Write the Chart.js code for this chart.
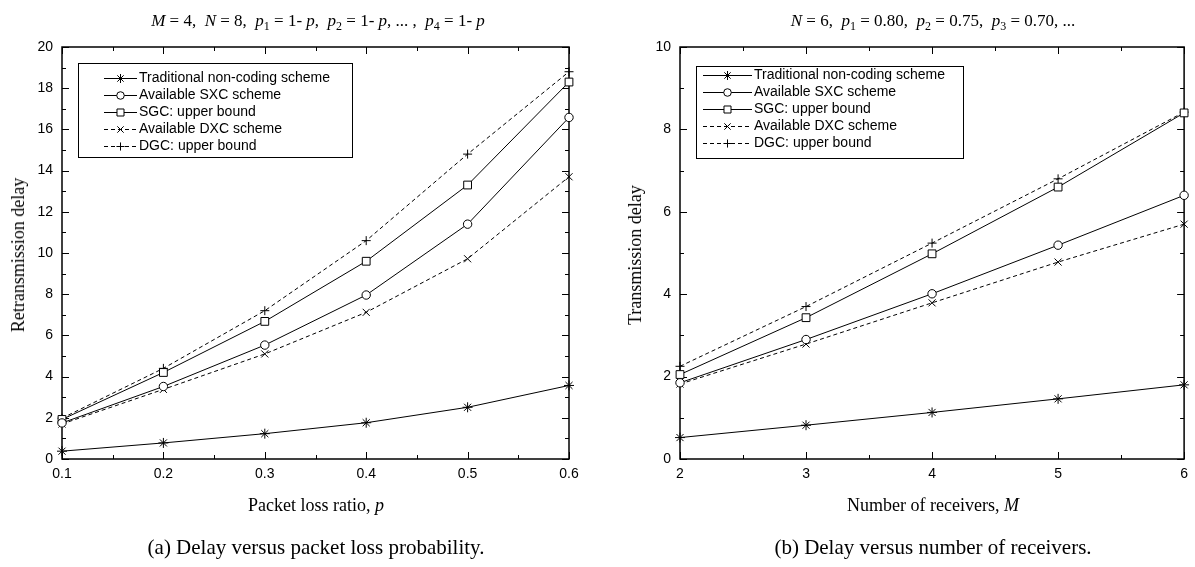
<!DOCTYPE html>
<html>
<head>
<meta charset="utf-8">
<script src="https://cdn.jsdelivr.net/npm/chart.js"></script>
<style>
  body { margin: 0; background: #fff; }
  #wrap { position: relative; width: 1195px; height: 567px; overflow: hidden;
          font-family: "Liberation Serif", "Times New Roman", serif; color: #000; }
  canvas { position: absolute; top: 0; }
  .t { position: absolute; white-space: nowrap; transform: translateX(-50%); }
  .title { font-size: 17px; line-height: 20px; top: 11px; }
  .xt { font-size: 18px; line-height: 20px; top: 495px; }
  .cap { font-size: 21px; line-height: 24px; top: 535px; }
  .yt { position: absolute; white-space: nowrap; font-size: 18px; line-height: 20px;
        transform: translate(-50%, -50%) rotate(-90deg); top: 255px; }
  i { font-style: italic; }
  sub { font-size: 12px; vertical-align: -4px; line-height: 0; }
</style>
</head>
<body>
<div id="wrap">
  <canvas id="chartA" width="597" height="567" style="left:0"></canvas>
  <canvas id="chartB" width="598" height="567" style="left:597px"></canvas>

  <div class="t title" style="left:318px"><i>M</i> = 4,&nbsp; <i>N</i> = 8,&nbsp; <i>p</i><sub>1</sub> = 1- <i>p</i>,&nbsp; <i>p</i><sub>2</sub> = 1- <i>p</i>, ... ,&nbsp; <i>p</i><sub>4</sub> = 1- <i>p</i></div>
  <div class="t title" style="left:933px"><i>N</i> = 6,&nbsp; <i>p</i><sub>1</sub> = 0.80,&nbsp; <i>p</i><sub>2</sub> = 0.75,&nbsp; <i>p</i><sub>3</sub> = 0.70, ...</div>

  <div class="yt" style="left:18px">Retransmission delay</div>
  <div class="yt" style="left:635px">Transmission delay</div>

  <div class="t xt" style="left:316px">Packet loss ratio, <i>p</i></div>
  <div class="t xt" style="left:933px">Number of receivers, <i>M</i></div>

  <div class="t cap" style="left:316px">(a) Delay versus packet loss probability.</div>
  <div class="t cap" style="left:933px">(b) Delay versus number of receivers.</div>
</div>

<script>
// series names (same in both panels)
const seriesNames = [
  "Traditional non-coding scheme",
  "Available SXC scheme",
  "SGC: upper bound",
  "Available DXC scheme",
  "DGC: upper bound"
];

// (a) delay vs packet loss ratio
const lossRatio    = [0.1, 0.2, 0.3, 0.4, 0.5, 0.6];
const aTraditional = [0.38, 0.78, 1.23, 1.76, 2.51, 3.57];
const aSXC         = [1.75, 3.52, 5.53, 7.96, 11.4, 16.58];
const aSGC         = [1.92, 4.2, 6.68, 9.6, 13.3, 18.3];
const aDXC         = [1.7, 3.38, 5.1, 7.12, 9.72, 13.7];
const aDGC         = [1.98, 4.4, 7.2, 10.6, 14.8, 18.8];

// (b) delay vs number of receivers
const receivers    = [2, 3, 4, 5, 6];
const bTraditional = [0.52, 0.82, 1.13, 1.46, 1.8];
const bSXC         = [1.85, 2.9, 4.01, 5.19, 6.4];
const bSGC         = [2.05, 3.43, 4.98, 6.6, 8.4];
const bDXC         = [1.82, 2.79, 3.79, 4.78, 5.7];
const bDGC         = [2.25, 3.7, 5.24, 6.8, 8.42];

// axis ranges / tick steps
const aXRange = [0.1, 0.6], aXStep = 0.1;
const aYRange = [0, 20],    aYStep = 2;
const bXRange = [2, 6],     bXStep = 1;
const bYRange = [0, 10],    bYStep = 2;

// styles per series
const markers = ["star", "circle", "rect", "crossRot", "cross"];
const radii   = [5, 4.2, 5.5, 5, 4.5];
const dashes  = [[], [], [], [4, 3], [4, 3]];

Chart.defaults.font.family = '"Liberation Sans", Arial, sans-serif';
Chart.defaults.font.size = 14;
Chart.defaults.color = "#000";

function makeSets(xs, values) {
  return seriesNames.map((name, i) => ({
    label: name,
    data: xs.map((x, j) => ({ x: x, y: values[i][j] })),
    borderColor: "#000",
    borderWidth: 1,
    borderDash: dashes[i],
    pointStyle: markers[i],
    pointRadius: radii[i],
    pointHoverRadius: radii[i],
    pointBorderColor: "#000",
    pointBackgroundColor: "#fff",
    pointBorderWidth: 1,
    fill: false,
    tension: 0,
    clip: false
  }));
}

// box around the plot, inward ticks on all 4 sides
const framePlugin = {
  id: "frame",
  beforeDatasetsDraw(chart) {
    const { ctx, chartArea: a, scales } = chart;
    ctx.save();
    ctx.strokeStyle = "#000";
    ctx.lineWidth = 1.5;
    ctx.strokeRect(a.left, a.top, a.right - a.left, a.bottom - a.top);
    ctx.lineWidth = 1;
    ctx.beginPath();
    const xv = scales.x.ticks.map(t => t.value);
    xv.forEach((v, k) => {
      const px = Math.round(scales.x.getPixelForValue(v)) + 0.5;
      ctx.moveTo(px, a.bottom); ctx.lineTo(px, a.bottom - 7);
      ctx.moveTo(px, a.top); ctx.lineTo(px, a.top + 7);
      if (k < xv.length - 1) {
        const mx = Math.round(scales.x.getPixelForValue((v + xv[k + 1]) / 2)) + 0.5;
        ctx.moveTo(mx, a.bottom); ctx.lineTo(mx, a.bottom - 4);
        ctx.moveTo(mx, a.top); ctx.lineTo(mx, a.top + 4);
      }
    });
    const yv = scales.y.ticks.map(t => t.value);
    yv.forEach((v, k) => {
      const py = Math.round(scales.y.getPixelForValue(v)) + 0.5;
      ctx.moveTo(a.left, py); ctx.lineTo(a.left + 7, py);
      ctx.moveTo(a.right, py); ctx.lineTo(a.right - 7, py);
      if (k < yv.length - 1) {
        const my = Math.round(scales.y.getPixelForValue((v + yv[k + 1]) / 2)) + 0.5;
        ctx.moveTo(a.left, my); ctx.lineTo(a.left + 4, my);
        ctx.moveTo(a.right, my); ctx.lineTo(a.right - 4, my);
      }
    });
    ctx.stroke();
    ctx.restore();
  }
};

// legend drawn inside the plot: line sample + marker + text
const boxLegend = {
  id: "boxLegend",
  afterDatasetsDraw(chart, args, o) {
    const { ctx, chartArea: a } = chart;
    const bx = a.left + o.x, by = a.top + o.y;
    ctx.save();
    ctx.fillStyle = "#fff";
    ctx.fillRect(bx, by, o.w, o.h);
    ctx.strokeStyle = "#000";
    ctx.lineWidth = 1;
    ctx.strokeRect(bx + 0.5, by + 0.5, o.w, o.h);
    ctx.font = '14px "Liberation Sans", Arial, sans-serif';
    ctx.textBaseline = "middle";
    chart.data.datasets.forEach((ds, i) => {
      const ry = Math.round(by + o.row0 + i * o.rowGap) + 0.5;
      const x0 = bx + o.s0, x1 = x0 + o.sLen;
      ctx.setLineDash(ds.borderDash);
      ctx.beginPath();
      ctx.moveTo(x0, ry); ctx.lineTo(x1, ry);
      ctx.stroke();
      ctx.setLineDash([]);
      ctx.fillStyle = "#fff";
      Chart.helpers.drawPoint(ctx, { pointStyle: ds.pointStyle, radius: ds.pointRadius * 0.9, borderWidth: 1, rotation: 0 }, (x0 + x1) / 2, ry);
      ctx.fillStyle = "#000";
      ctx.fillText(ds.label, x1 + o.gap, ry);
    });
    ctx.restore();
  }
};

function makeChart(id, xs, values, xr, xs_, yr, ys_, yWidth, padRight, legendOpts) {
  return new Chart(document.getElementById(id), {
    type: "line",
    data: { datasets: makeSets(xs, values) },
    plugins: [framePlugin, boxLegend],
    options: {
      responsive: false,
      animation: false,
      layout: { padding: { top: 47, right: padRight, left: 0, bottom: 0 } },
      plugins: { legend: { display: false }, tooltip: { enabled: false }, boxLegend: legendOpts },
      scales: {
        x: {
          type: "linear", min: xr[0], max: xr[1],
          grid: { display: false, drawTicks: false }, border: { display: false },
          ticks: { stepSize: xs_, padding: 7, maxRotation: 0, autoSkip: false,
                   callback: v => (xs_ < 1 ? v.toFixed(1) : String(v)) },
          afterFit: s => { s.height = 108; }
        },
        y: {
          type: "linear", min: yr[0], max: yr[1],
          grid: { display: false, drawTicks: false }, border: { display: false },
          ticks: { stepSize: ys_, padding: 9 },
          afterFit: s => { s.width = yWidth; }
        }
      }
    }
  });
}

makeChart("chartA", lossRatio, [aTraditional, aSXC, aSGC, aDXC, aDGC],
  aXRange, aXStep, aYRange, aYStep, 62, 28,
  { x: 16, y: 16, w: 274, h: 94, s0: 26, sLen: 33, gap: 2, row0: 15, rowGap: 17 });

makeChart("chartB", receivers, [bTraditional, bSXC, bSGC, bDXC, bDGC],
  bXRange, bXStep, bYRange, bYStep, 83, 9,
  { x: 16, y: 19, w: 267, h: 92, s0: 7, sLen: 49, gap: 2, row0: 8.5, rowGap: 17.2 });
</script>
</body>
</html>
